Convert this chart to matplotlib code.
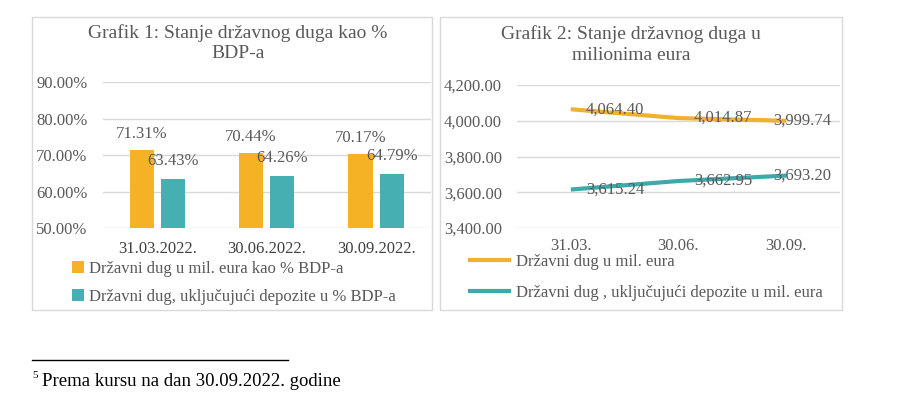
import matplotlib.pyplot as plt
from matplotlib.patches import Rectangle
from matplotlib.lines import Line2D
import numpy as np

plt.rcParams['font.family'] = ['Liberation Serif', 'DejaVu Serif']

# Grafik 1
dates_1 = ['31.03.2022.', '30.06.2022.', '30.09.2022.']
dug_pct = [71.31, 70.44, 70.17]
dug_dep_pct = [63.43, 64.26, 64.79]
legend_1 = ['Državni dug u mil. eura kao % BDP-a',
            'Državni dug, uključujući depozite u % BDP-a']

# Grafik 2
dates_2 = ['31.03.', '30.06.', '30.09.']
dug_mil = [4064.40, 4014.87, 3999.74]
dug_dep_mil = [3615.24, 3662.95, 3693.20]
legend_2 = ['Državni dug u mil. eura',
            'Državni dug , uključujući depozite u mil. eura']

ORANGE = '#F4B224'
TEAL = '#46AFB1'
GRID = '#D9D9D9'
TXT = '#595959'
FS = 12

W, H = 900, 396
fig = plt.figure(figsize=(W / 100, H / 100), dpi=100)


def box(x0, y0, x1, y1):
    """pixel box -> figure fraction rect"""
    return [x0 / W, 1 - y1 / H, (x1 - x0) / W, (y1 - y0) / H]


def pt(x, y):
    return x / W, 1 - y / H


# okviri oko grafika
for x0, x1 in [(32, 432), (440, 842)]:
    fig.patches.append(Rectangle((x0 / W, 1 - 310 / H), (x1 - x0) / W, 293 / H,
                                 transform=fig.transFigure, fill=False,
                                 edgecolor=GRID, linewidth=1.0))

# ---- Grafik 1: stubici ----
ax1 = fig.add_axes(box(103, 82, 431, 228))
x = np.arange(len(dates_1))
bw = 0.22
b1 = ax1.bar(x - 0.145, dug_pct, bw, color=ORANGE, label=legend_1[0], zorder=3)
b2 = ax1.bar(x + 0.14, dug_dep_pct, bw, color=TEAL, label=legend_1[1], zorder=3)
ax1.bar_label(b1, labels=[f'{v:.2f}%' for v in dug_pct], padding=6,
              fontsize=FS, color=TXT)
ax1.bar_label(b2, labels=[f'{v:.2f}%' for v in dug_dep_pct], padding=7,
              fontsize=FS, color=TXT)
ax1.set_ylim(50, 90)
ax1.set_xlim(-0.5, 2.5)
ax1.set_yticks([50, 60, 70, 80, 90])
ax1.set_yticklabels([f'{v:.2f}%' for v in [50, 60, 70, 80, 90]])
ax1.set_xticks(x)
ax1.set_xticklabels(dates_1)
ax1.yaxis.grid(True, color=GRID, linewidth=1.0, zorder=0)
ax1.tick_params(axis='y', length=0, pad=11, labelsize=FS, labelcolor=TXT)
ax1.tick_params(axis='x', length=0, pad=9, labelsize=FS, labelcolor='#404040')
for s in ax1.spines.values():
    s.set_visible(False)
ax1.set_facecolor('none')

fig.text(*pt(238, 33), 'Grafik 1: Stanje državnog duga kao %', ha='center',
         va='center', fontsize=14, color=TXT)
fig.text(*pt(238, 53), 'BDP-a', ha='center', va='center', fontsize=14, color=TXT)

fig.legend(handles=[b1, b2], loc='upper left', bbox_to_anchor=pt(72, 261),
           frameon=False, fontsize=FS, labelcolor=TXT, handlelength=0.7,
           handleheight=0.7, handletextpad=0.3, labelspacing=0.72,
           borderpad=0, borderaxespad=0)

# ---- Grafik 2: linije ----
ax2 = fig.add_axes(box(517, 85, 840, 228))
x2 = np.arange(len(dates_2))
l1, = ax2.plot(x2, dug_mil, color='#F0B030', linewidth=3, label=legend_2[0],
               solid_capstyle='butt', zorder=3)
l2, = ax2.plot(x2, dug_dep_mil, color='#3FA9AA', linewidth=3, label=legend_2[1],
               solid_capstyle='butt', zorder=3)
offs = [11, 11, -9.5]
for series in (dug_mil, dug_dep_mil):
    for xi, v, dx in zip(x2, series, offs):
        ax2.annotate(f'{v:,.2f}', (xi, v), xytext=(dx, 0), textcoords='offset points',
                     ha='left', va='center', fontsize=FS, color=TXT, zorder=4)
ax2.set_ylim(3400, 4200)
ax2.set_xlim(-0.5, 2.5)
ax2.set_yticks([3400, 3600, 3800, 4000, 4200])
ax2.set_yticklabels([f'{v:,.2f}' for v in [3400, 3600, 3800, 4000, 4200]])
ax2.set_xticks(x2)
ax2.set_xticklabels(dates_2)
ax2.yaxis.grid(True, color=GRID, linewidth=1.0, zorder=0)
ax2.tick_params(axis='y', length=0, pad=11, labelsize=FS, labelcolor=TXT)
ax2.tick_params(axis='x', length=0, pad=7, labelsize=FS, labelcolor=TXT)
for s in ax2.spines.values():
    s.set_visible(False)
ax2.set_facecolor('none')

fig.text(*pt(631, 34), 'Grafik 2: Stanje državnog duga u', ha='center',
         va='center', fontsize=14, color=TXT)
fig.text(*pt(631, 55), 'milionima eura', ha='center', va='center', fontsize=14,
         color=TXT)

h1 = Line2D([], [], color='#F0B030', linewidth=3, solid_capstyle='butt')
h2 = Line2D([], [], color='#3FA9AA', linewidth=3, solid_capstyle='butt')
fig.legend(handles=[h1, h2], labels=legend_2, loc='upper left',
           bbox_to_anchor=pt(468, 254), frameon=False, fontsize=FS,
           labelcolor=TXT, handlelength=2.6, handletextpad=0.25,
           labelspacing=0.9, borderpad=0, borderaxespad=0)

# ---- fusnota ----
fig.add_artist(Line2D([32 / W, 288 / W], [1 - 360 / H, 1 - 360 / H],
                      color='black', linewidth=1.0))
fig.text(*pt(32, 376), '5', fontsize=8, va='center', ha='left', color='black')
fig.text(*pt(42, 381), 'Prema kursu na dan 30.09.2022. godine', fontsize=13.5,
         va='center', ha='left', color='black')

fig.savefig('out.png', dpi=100)
